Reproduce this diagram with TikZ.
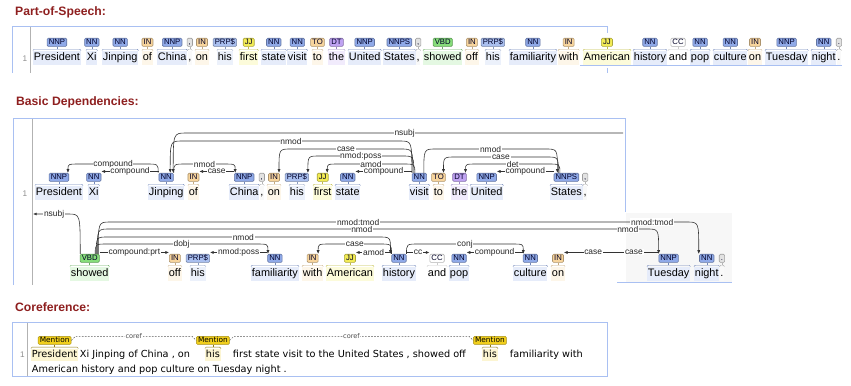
\documentclass[tikz,border=0pt]{standalone}
\usepackage{fontspec}
\setmainfont{Liberation Sans}
\newfontfamily\corefont{DejaVu Sans}
\usetikzlibrary{positioning, arrows.meta, calc}

\definecolor{nounC}{HTML}{8FA9E8}
\definecolor{prpC}{HTML}{A9BFEF}
\definecolor{inC}{HTML}{F7D49C}
\definecolor{jjC}{HTML}{F3EC55}
\definecolor{dtC}{HTML}{BFA2F2}
\definecolor{vbC}{HTML}{86DD7A}
\definecolor{ccC}{HTML}{FFFFFF}
\definecolor{pnC}{HTML}{E2E2E2}
\definecolor{mentC}{HTML}{F0CE1C}
\definecolor{titleC}{HTML}{8E1F1F}
\definecolor{panelC}{HTML}{A9C0F2}

\tikzset{
  % tokens and their tags
  tokword/.style={
    anchor=west, inner xsep=0.6pt, inner ysep=1.2pt,
    text height=7.2pt, text depth=2.4pt,
    font=\fontsize{9.3}{11}\selectfont
  },
  postag/.style={
    rounded corners=1pt, inner xsep=1.4pt, inner ysep=0.8pt,
    text height=4.8pt, text depth=0.6pt, line width=0.5pt,
    text=black!85!blue, font=\fontsize{6.6}{7}\selectfont
  },
  wordbrace/.style={line width=0.4pt, rounded corners=1pt},
  % dependency arcs
  deparc/.style={
    -{Latex[length=3.2pt,width=2.6pt]}, line width=0.5pt, draw=black!80
  },
  deplab/.style={
    fill=white, inner sep=0.6pt, text=black!85,
    font=\fontsize{7.2}{8}\selectfont
  },
  % coreference
  cword/.style={
    anchor=west, inner xsep=0.6pt, inner ysep=1pt,
    text height=6.4pt, text depth=2pt,
    font=\corefont\fontsize{8.3}{10}\selectfont
  },
  mention/.style={
    fill=mentC, draw=mentC!70!black, rounded corners=1pt,
    inner xsep=1.4pt, inner ysep=0.8pt, text height=4.6pt, text depth=0.6pt,
    font=\corefont\fontsize{6.3}{7}\selectfont
  },
  corefarc/.style={dash pattern=on 1.4pt off 1.2pt, line width=0.4pt, draw=black!65},
  coreflab/.style={
    fill=white, inner sep=0.5pt, text=black!70,
    font=\corefont\fontsize{5.6}{6}\selectfont
  },
  % frames
  secttitle/.style={anchor=base west, text=titleC, font=\bfseries\fontsize{10.4}{12}\selectfont},
  panelline/.style={draw=panelC, line width=0.6pt},
  sepline/.style={draw=black!30, line width=0.5pt},
  lineno/.style={text=black!45, font=\fontsize{7}{8}\selectfont},
}

% token: name, position, tag, word, colour
\newcommand{\wordtok}[5]{%
  \node[tokword, fill=#5!22] (#1) at #2 {#4};
  \node[postag, fill=#5, draw=#5!70!black, above=0.12cm of #1] (#1tag) {#3};
  \draw[wordbrace, draw=#5!80!black] (#1.north west) |- ($(#1.north)+(0,-1.5)$) -| (#1.north east);
  \draw[wordbrace, draw=#5!80!black] ($(#1.north)+(0,-1.5)$) -- (#1tag.south);
}
% coreference mention: name, position, word
\newcommand{\mentok}[3]{%
  \node[cword, fill=mentC!20] (#1) at #2 {#3};
  \node[mention, above=0.12cm of #1] (#1tag) {Mention};
  \draw[wordbrace, draw=mentC!60!black] (#1.north west) |- ($(#1.north)+(0,-1.5)$) -| (#1.north east);
  \draw[wordbrace, draw=mentC!60!black] ($(#1.north)+(0,-1.5)$) -- (#1tag.south);
}
% arc: head, head dx, dependent, dep dx, level, label, direction
\newcommand{\deparc}[7]{%
  \coordinate (ah) at ($(#1.north)+(#2,0)$);
  \coordinate (ad) at ($(#3.north)+(#4,0)$);
  \coordinate (al) at (0,#5);
  \draw[deparc] (ah) .. controls (ah |- al) .. ($(ah |- al)+(#7*12,0)$)
    -- node[deplab] {#6} ($(ad |- al)+(#7*-12,0)$) .. controls (ad |- al) .. (ad);
}
% lowest arc, straight from corner to corner
\newcommand{\flatarc}[3]{%
  \draw[deparc] ($(#1)+(0,-1.5)$) -- node[deplab] {#3} ($(#2)+(0,-1.5)$);
}

\begin{document}
\begin{tikzpicture}[x=0.03cm, y=-0.03cm]
  \useasboundingbox (0,0) rectangle (851,385);

  %% ── Titles ──
  \node[secttitle] (tPos) at (11,15)  {Part-of-Speech:};
  \node[secttitle] (tDep) at (12,105) {Basic Dependencies:};
  \node[secttitle] (tCor) at (11,311) {Coreference:};

  %% ── Frames ──
  \draw[panelline] (12,73) |- (607,26) -- (607,33);
  \draw[panelline] (607,68) -- (607,73);
  \draw[panelline] (580,65) -- (842,65);
  \draw[sepline] (30,27) -- (30,73);
  \node[lineno] (nPos) at (25,59) {1};

  \fill[black!3] (626,213) rectangle (732,282);
  \draw[panelline] (13,285) |- (625,118) -- (625,212);
  \draw[panelline] (617,282) -- (732,282);
  \draw[sepline] (32,119) -- (32,285);
  \node[lineno] (nDep) at (25,194) {1};

  \draw[panelline] (12,322) rectangle (607,376);
  \draw[sepline] (27,323) -- (27,376);
  \node[lineno] (nCor) at (22.5,355) {1};

  %% ── Part-of-Speech ──
  \wordtok{pPres}{(33,58)}{NNP}{President}{nounC}
  \wordtok{pXi}{(86,58)}{NN}{Xi}{nounC}
  \wordtok{pJin}{(102,58)}{NN}{Jinping}{nounC}
  \wordtok{pOf}{(142,58)}{IN}{of}{inC}
  \wordtok{pChina}{(157,58)}{NNP}{China}{nounC}
  \wordtok{pCmA}{(pChina.east)}{,}{,}{pnC}
  \wordtok{pOn}{(195,58)}{IN}{on}{inC}
  \wordtok{pHis}{(217,58)}{PRP\$}{his}{prpC}
  \wordtok{pFirst}{(239,58)}{JJ}{first}{jjC}
  \wordtok{pState}{(261,58)}{NN}{state}{nounC}
  \wordtok{pVisit}{(287,58)}{NN}{visit}{nounC}
  \wordtok{pTo}{(312,58)}{TO}{to}{inC}
  \wordtok{pThe}{(328,58)}{DT}{the}{dtC}
  \wordtok{pUnited}{(348,58)}{NNP}{United}{nounC}
  \wordtok{pStates}{(383,58)}{NNPS}{States}{nounC}
  \wordtok{pCmB}{(pStates.east)}{,}{,}{pnC}
  \wordtok{pShowed}{(423,58)}{VBD}{showed}{vbC}
  \wordtok{pOff}{(465,58)}{IN}{off}{inC}
  \wordtok{pHisB}{(485,58)}{PRP\$}{his}{prpC}
  \wordtok{pFam}{(509,58)}{NN}{familiarity}{nounC}
  \wordtok{pWith}{(558,58)}{IN}{with}{inC}
  \wordtok{pAmer}{(583,58)}{JJ}{American}{jjC}
  \wordtok{pHist}{(633,58)}{NN}{history}{nounC}
  \wordtok{pAnd}{(668,58)}{CC}{and}{ccC}
  \wordtok{pPop}{(690,58)}{NN}{pop}{nounC}
  \wordtok{pCult}{(713,58)}{NN}{culture}{nounC}
  \wordtok{pOnB}{(748,58)}{IN}{on}{inC}
  \wordtok{pTues}{(765,58)}{NNP}{Tuesday}{nounC}
  \wordtok{pNight}{(811,58)}{NN}{night}{nounC}
  \wordtok{pDot}{(pNight.east)}{.}{.}{pnC}

  %% ── Basic Dependencies, first row ──
  \wordtok{dPres}{(35,193)}{NNP}{President}{nounC}
  \wordtok{dXi}{(88,193)}{NN}{Xi}{nounC}
  \wordtok{dJin}{(148,193)}{NN}{Jinping}{nounC}
  \wordtok{dOf}{(188,193)}{IN}{of}{inC}
  \wordtok{dChina}{(229,193)}{NNP}{China}{nounC}
  \wordtok{dCmA}{(dChina.east)}{,}{,}{pnC}
  \wordtok{dOn}{(267,193)}{IN}{on}{inC}
  \wordtok{dHis}{(289,193)}{PRP\$}{his}{prpC}
  \wordtok{dFirst}{(313,193)}{JJ}{first}{jjC}
  \wordtok{dState}{(335,193)}{NN}{state}{nounC}
  \wordtok{dVisit}{(409,193)}{NN}{visit}{nounC}
  \wordtok{dTo}{(433,193)}{TO}{to}{inC}
  \wordtok{dThe}{(451,193)}{DT}{the}{dtC}
  \wordtok{dUnited}{(470,193)}{NNP}{United}{nounC}
  \wordtok{dStates}{(550,193)}{NNPS}{States}{nounC}
  \wordtok{dCmB}{(dStates.east)}{,}{,}{pnC}

  \deparc{dJintag}{-8}{dPrestag}{9}{164}{compound}{-1}
  \flatarc{dJintag.north west}{dXitag.north east}{compound}
  \deparc{dJintag}{7.5}{dChinatag}{-9}{164}{nmod}{1}
  \flatarc{dChinatag.north west}{dOftag.north east}{case}
  \deparc{dVisittag}{-7.5}{dJintag}{4}{141}{nmod}{-1}
  \deparc{dVisittag}{-6.5}{dOntag}{5}{149}{case}{-1}
  \deparc{dVisittag}{-5.5}{dHistag}{11}{156}{nmod:poss}{-1}
  \deparc{dVisittag}{-4.5}{dFirsttag}{4.5}{164}{amod}{-1}
  \flatarc{dVisittag.north west}{dStatetag.north east}{compound}
  \deparc{dVisittag}{4.5}{dStatestag}{-9}{149}{nmod}{1}
  \deparc{dStatestag}{-8}{dTotag}{5}{157}{case}{-1}
  \deparc{dStatestag}{-6.5}{dThetag}{6}{164}{det}{-1}
  \flatarc{dStatestag.north west}{dUnitedtag.north east}{compound}

  % nsubj runs on to the second row
  \coordinate (wrapR) at (623,133);
  \coordinate (nsJ) at ($(dJintag.north)+(7,0)$);
  \draw[deparc] (wrapR) -- node[deplab] {nsubj} ($(nsJ |- wrapR)+(13,0)$)
    .. controls (nsJ |- wrapR) .. (nsJ);

  %% ── Basic Dependencies, second row ──
  \wordtok{dShowed}{(70,274)}{VBD}{showed}{vbC}
  \wordtok{dOff}{(168,274)}{IN}{off}{inC}
  \wordtok{dHisB}{(190,274)}{PRP\$}{his}{prpC}
  \wordtok{dFam}{(251,274)}{NN}{familiarity}{nounC}
  \wordtok{dWith}{(302,274)}{IN}{with}{inC}
  \wordtok{dAmer}{(326,274)}{JJ}{American}{jjC}
  \wordtok{dHist}{(382,274)}{NN}{history}{nounC}
  \wordtok{dAnd}{(427,274)}{CC}{and}{ccC}
  \wordtok{dPop}{(449,274)}{NN}{pop}{nounC}
  \wordtok{dCult}{(513,274)}{NN}{culture}{nounC}
  \wordtok{dOnB}{(551,274)}{IN}{on}{inC}
  \wordtok{dTues}{(647,274)}{NNP}{Tuesday}{nounC}
  \wordtok{dNight}{(694,274)}{NN}{night}{nounC}
  \wordtok{dDot}{(dNight.east)}{.}{.}{pnC}

  \coordinate (wrapL) at (33,214);
  \coordinate (nsS) at ($(dShowedtag.north)+(-9.5,0)$);
  \draw[deparc] (nsS) .. controls (nsS |- wrapL) .. ($(nsS |- wrapL)+(-12,0)$)
    -- node[deplab, pos=0.4] {nsubj} (wrapL);

  \coordinate (tmH) at ($(dShowedtag.north)+(8.5,0)$);
  \coordinate (tmD) at ($(dNighttag.north)+(-8,0)$);
  \coordinate (tmL) at (0,222);
  \draw[deparc] (tmH) .. controls (tmH |- tmL) .. ($(tmH |- tmL)+(12,0)$)
    -- node[deplab, pos=0.43] {nmod:tmod} node[deplab, pos=0.94] {nmod:tmod}
    ($(tmD |- tmL)+(-12,0)$) .. controls (tmD |- tmL) .. (tmD);
  \coordinate (nmH) at ($(dShowedtag.north)+(7.5,0)$);
  \coordinate (nmD) at ($(dTuestag.north)+(-10,0)$);
  \coordinate (nmL) at (0,229);
  \draw[deparc] (nmH) .. controls (nmH |- nmL) .. ($(nmH |- nmL)+(12,0)$)
    -- node[deplab, pos=0.47] {nmod} node[deplab, pos=0.965] {nmod}
    ($(nmD |- nmL)+(-12,0)$) .. controls (nmD |- nmL) .. (nmD);

  \deparc{dShowedtag}{6.5}{dHisttag}{-8.5}{237}{nmod}{1}
  \deparc{dShowedtag}{5.5}{dFamtag}{-7}{244}{dobj}{1}
  \flatarc{dShowedtag.north east}{dOfftag.north west}{compound:prt}
  \flatarc{dFamtag.north west}{dHisBtag.north east}{nmod:poss}
  \deparc{dHisttag}{-7.5}{dWithtag}{5.5}{244}{case}{-1}
  \flatarc{dHisttag.north west}{dAmertag.north east}{amod}
  \flatarc{dHisttag.north east}{dAndtag.north west}{cc}
  \deparc{dHisttag}{7.5}{dCulttag}{-7}{244}{conj}{1}
  \flatarc{dCulttag.north west}{dPoptag.north east}{compound}
  \draw[deparc] ($(dTuestag.north west)+(0,-1.5)$)
    -- node[deplab, pos=0.26] {case} node[deplab, pos=0.69] {case}
    ($(dOnBtag.north east)+(0,-1.5)$);

  %% ── Coreference ──
  \mentok{cPres}{(31,355)}{President}
  \node[cword] (cA) at (79,355) {Xi Jinping of China , on};
  \mentok{cHis}{(205,355)}{his}
  \node[cword] (cB) at (232,355) {first state visit to the United States , showed off};
  \mentok{cHisB}{(482,355)}{his}
  \node[cword] (cC) at (509,355) {familiarity with};
  \node[cword] (cD) at (31,370) {American history and pop culture on Tuesday night .};

  \draw[corefarc] (cPrestag.east) -- ++(4,-4)
    -- node[coreflab] {coref} ($(cHistag.west)+(-4,-4)$) -- (cHistag.west);
  \draw[corefarc] (cHistag.east) -- ++(4,-4)
    -- node[coreflab] {coref} ($(cHisBtag.west)+(-4,-4)$) -- (cHisBtag.west);

\end{tikzpicture}
\end{document}
